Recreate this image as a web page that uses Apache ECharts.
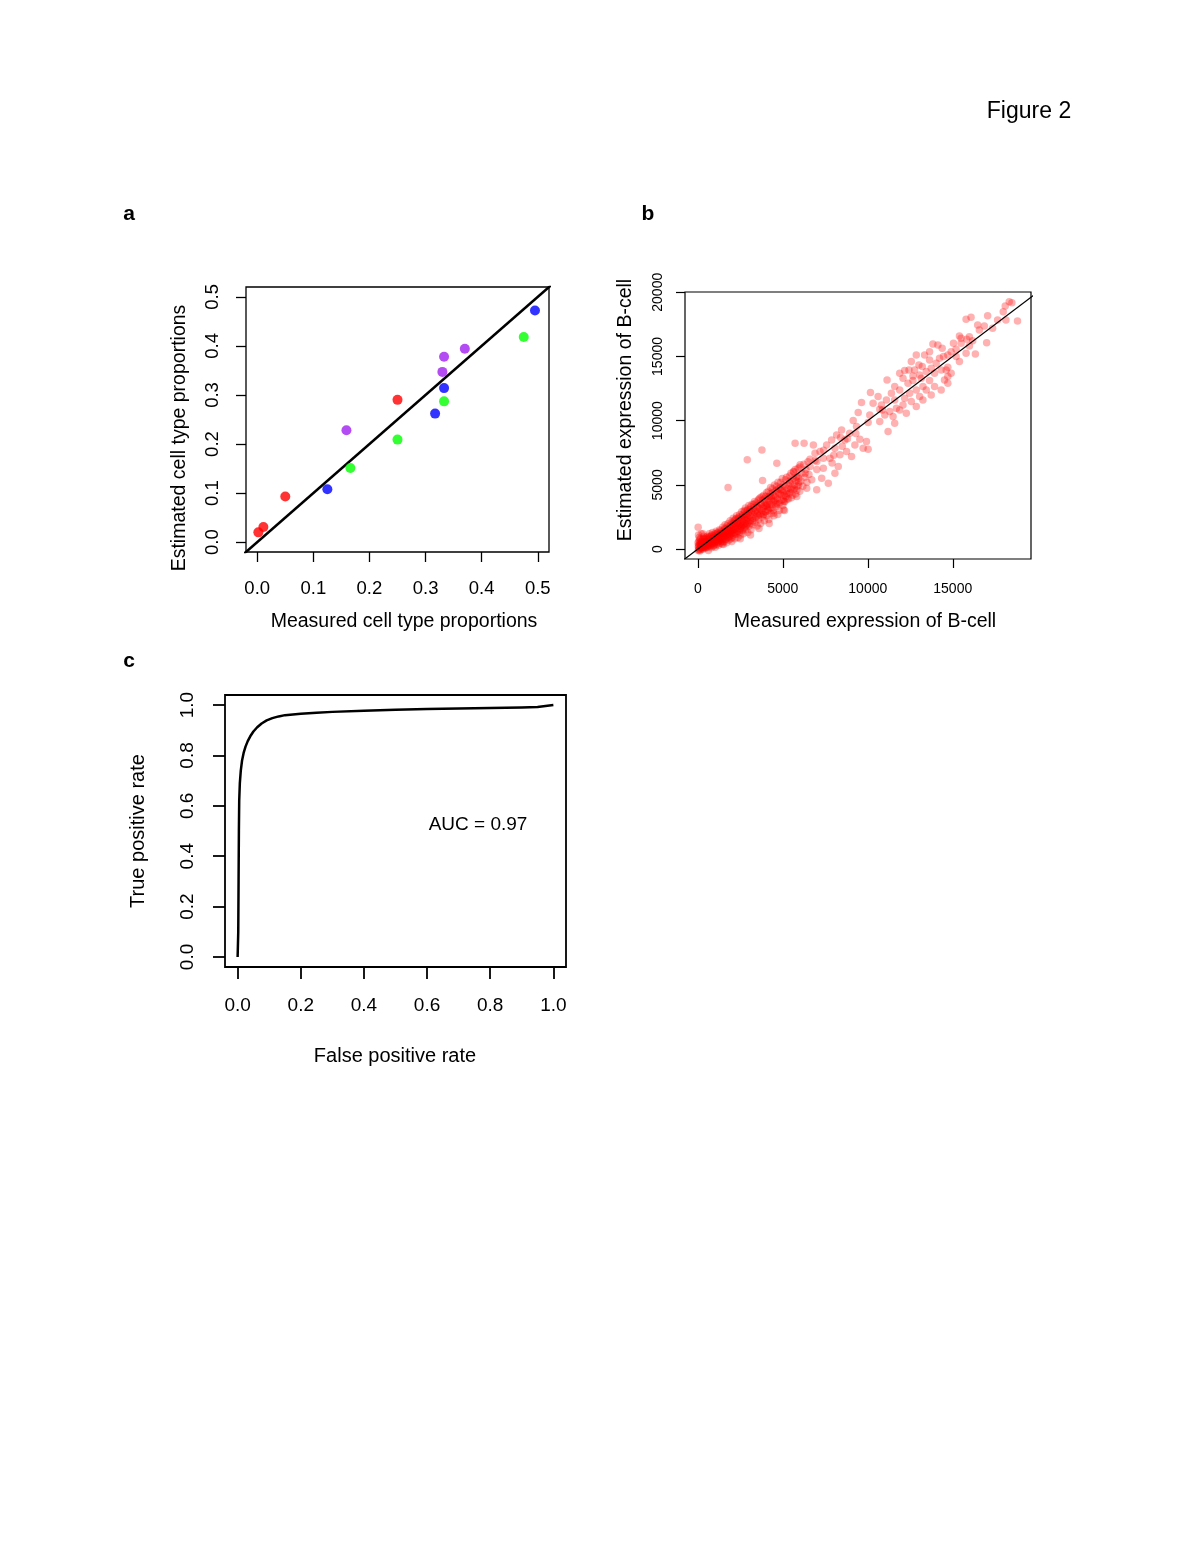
<!DOCTYPE html>
<html>
<head>
<meta charset="utf-8">
<script src="https://cdn.jsdelivr.net/npm/echarts@6/dist/echarts.min.js"></script>
<style>
html,body{margin:0;padding:0;background:#fff;}
#chart{width:1200px;height:1553px;}
</style>
</head>
<body>
<div id="chart"></div>
<script>
// ---------- Panel a: measured vs estimated cell type proportions ----------
const aRedMeasured = [0.002, 0.011, 0.050, 0.250];
const aRedEstimated = [0.020, 0.031, 0.093, 0.290];
const aBlueMeasured = [0.125, 0.317, 0.333, 0.495];
const aBlueEstimated = [0.108, 0.262, 0.314, 0.472];
const aGreenMeasured = [0.166, 0.250, 0.333, 0.475];
const aGreenEstimated = [0.151, 0.209, 0.287, 0.418];
const aPurpleMeasured = [0.159, 0.330, 0.333, 0.370];
const aPurpleEstimated = [0.228, 0.347, 0.378, 0.394];
const aTicks = [0.0, 0.1, 0.2, 0.3, 0.4, 0.5];
const aIdentityRange = [-1, 1];

// ---------- Panel b: measured vs estimated expression of B-cell ----------
const bUpperPoints = [
 [18323,19266],[18088,18929],[18479,19188],[17971,18488],[18127,17840],[18811,17762],[17053,18177],[16077,18047],
 [15784,17892],[16467,17451],[16858,17374],[17346,17192],[16995,16077],[16330,15195],[15979,15818],[15393,16596],
 [15823,16337],[15491,16025],[15198,15559],[15393,14599],[16174,16233],[14905,15377],[14456,14988],[14378,15637],
 [13831,15974],[13343,15118],[13636,14729],[14026,14470],[13011,14340],[12757,13951],[12171,13899],[13441,13821],
 [13929,13691],[14710,13432],[14319,13951],[13148,13302],[12659,13121],[13636,13121],[14710,12914],[14319,12393],
 [13733,12006],[13245,12654],[12366,12914],[11878,12395],[11136,13173],[12171,11747],[12562,11487],[11585,11617],
 [11878,10839],[11292,10709],[10804,11228],[11003,10450],[12854,11098],[13245,11617],[14612,13951],
 [12854,15118],[12561,14599],[13206,14210],[13733,14080],[14221,14858],[14710,15118],[15042,16025],[15491,16414],
 [15979,16544],[16565,17063],[17639,17840],[15198,14988],[15784,15248],[14514,13173],[13050,13562],[12073,13303],
 [11585,12654],[12854,12395],[13441,12395],[13929,12654],[12464,12136],[13050,11877],[11390,12136],[12073,11228],
 [11097,11617],[11683,10969],[10862,10839],[12268,10580],[11488,10320],[13636,15377],[14124,15896],[14710,14158],
 [14905,13692],[12425,13951],[11878,13692],[12659,13484]
];
const bMiddlePoints = [
 [10158,12187],[10607,11875],[9631,11409],[10314,11357],[10705,10890],[9436,10631],[10119,10449],[9143,10008],
 [9338,9542],[10021,9853],[8459,9283],[8935,9023],[8654,8505],[9534,8556],[9924,8375],[9240,8116],
 [9729,7856],[10021,7778],[8166,8894],[7873,8505],[7580,8116],[8752,7597],[9045,7208],[8361,7338],
 [8068,7857],[7190,7597],[6799,8116],[5725,8245],[6252,8245],[6897,7467],[7385,7079],[7775,7079],
 [7003,6819],[6604,6430],[6018,6560],[6311,5912],[7385,6301],[8264,6430],[8068,5912],[5627,6041],
 [5920,5523],[6702,5393],[7287,5523],[7678,5134],[5432,5134],[6409,4745],[6995,4615],[5237,4356],
 [5823,4097],[5042,3837],[11584,9801],[11193,9153],[10705,9931],
 [4260,4096],[4650,3578],[4065,3318],[4455,2799],[3869,2670],[5041,3059],[4846,4615],[3772,7726],[4650,6689],
 [1780,4800],[2910,6950],[3810,5340],
 [6900,6900],[7400,7700],[8000,7300],[8500,8000],[7000,6200],[6600,7000],[7900,6700],[8800,8600],[9300,9000],[8400,8700]
];
const bDensePoints = [
 [20,-100],[40,150],[60,300],[90,20],[110,450],[130,200],[150,-50],[170,350],[190,600],[210,120],[230,420],[260,250],
 [280,700],[300,-20],[320,520],[340,300],[360,150],[380,800],[400,450],[420,250],[440,620],[460,80],[480,380],[500,900],
 [40,1100],[20,1700],[80,900],[200,1200],[350,1000],[150,800],[250,50],[450,200],[10,500],[60,600],[120,-150],[300,1200],
 [520,600],[540,150],[560,1000],[580,400],[600,750],[620,-100],[640,300],[660,550],[680,1200],[700,800],[720,200],[740,650],
 [760,450],[780,1000],[800,100],[820,700],[840,380],[860,1300],[880,850],[900,550],[920,250],[940,1050],[960,700],[980,450],
 [1000,1200],[1020,150],[1040,900],[1060,600],[1080,1400],[1100,350],[1120,1000],[1140,750],[1160,500],[1180,1250],[1200,850],
 [1220,300],[1240,1100],[1260,650],[1280,1500],[1300,950],[1320,450],[1340,1200],[1360,800],[1380,600],[1400,1350],[1420,1000],
 [1440,400],[1460,1700],[1480,750],[1500,1150],
 [1520,900],[1540,1500],[1560,600],[1580,1250],[1600,1900],[1620,1050],[1640,750],[1660,1400],[1680,1100],[1700,500],
 [1720,1650],[1740,1300],[1760,900],[1780,2000],[1800,1500],[1820,700],[1840,1200],[1860,1750],[1880,1000],[1900,2200],
 [1920,1400],[1940,800],[1960,1650],[1980,1200],[2000,2100],[2020,900],[2040,1800],[2060,1450],[2080,2400],[2100,1100],
 [2120,1700],[2140,2000],[2160,1300],[2180,800],[2200,2300],[2220,1550],[2240,1900],[2260,1150],[2280,2600],[2300,1700],
 [2320,2100],[2340,1400],[2360,900],[2380,2400],[2400,1850],[2420,2200],[2440,1300],[2460,2700],[2480,1600],[2500,2000],
 [2520,1100],[2540,2450],[2560,1800],[2580,2900],[2600,2150],[2620,1450],[2640,2600],[2660,1900],[2680,1200],[2700,2350],
 [2720,3000],[2740,1700],[2760,2500],[2780,2000],[2800,3200],[2820,1500],[2840,2700],[2860,2200],[2880,1900],[2900,3000],
 [2920,2450],[2940,1300],[2960,2800],[2980,2100],[3000,3400],
 [3020,1800],[3050,2600],[3080,3100],[3100,2200],[3130,1500],[3160,2900],[3190,3500],[3220,2400],[3250,1900],[3280,3200],
 [3310,2700],[3340,3700],[3370,2100],[3400,3000],[3430,2500],[3460,3400],[3490,1800],[3520,2900],[3550,3800],[3580,2300],
 [3610,3200],[3640,2700],[3670,4000],[3700,2000],[3730,3500],[3760,3000],[3790,2500],[3820,3800],[3850,3300],[3880,4200],
 [3910,2200],[3940,3600],[3970,2900],[4000,4100],[4030,3400],[4060,2600],[4090,3900],[4120,3100],[4150,4500],[4180,2300],
 [4210,3700],[4240,3200],[4270,4300],[4300,2800],[4330,4000],[4360,3500],[4390,4700],[4420,3000],[4450,4200],[4480,2600],
 [4520,3800],[4560,4500],[4600,3300],[4640,4900],[4680,4000],[4720,3500],[4760,4700],[4800,3000],[4840,4300],[4880,5200],
 [4920,3800],[4960,4600],[5000,3400],[5040,5000],[5080,4200],[5120,3700],[5160,5400],[5200,4500],[5250,3900],[5300,5000],
 [5350,4300],[5400,5700],[5450,4700],[5500,4000],[5550,5300],[5600,4600],[5650,6000],[5700,5000],[5750,4300],[5800,5600],
 [5850,4900],[5900,6300],[5950,5200],[6000,4500],
 [3100,1100],[3600,1600],[4200,2000],[4700,2700],[5100,3000],[2500,800],[2000,600],[1500,350],
 [30,250],[70,-50],[100,700],[140,350],[180,100],[220,550],[270,380],[310,150],[330,850],[370,550],[410,100],[430,750],
 [470,500],[510,300],[550,800],[590,200],[630,900],[670,400],[710,1000],[750,300],[790,650],[830,1100],[870,500],[910,850],
 [950,300],[990,900],[1030,550],[1070,1150],[1110,700],[1150,1300],[1190,600],[1230,900],[1270,1200],[1310,700],[1350,1450],
 [1390,950],[1430,1200],[1470,550],[1510,1350],[1550,1000],[1590,1600],[1630,800],[1670,1250],[1710,1800],[1750,1050],
 [1790,1450],[1830,950],[1870,1600],[1910,1150],[1950,1900],[1990,1450],
 [2030,1300],[2070,2000],[2110,1500],[2150,2200],[2190,1200],[2230,1800],[2270,2400],[2310,1350],[2350,2000],[2390,1600],
 [2430,2500],[2470,1900],[2510,1500],[2550,2300],[2590,1750],[2630,2700],[2670,2100],[2710,1600],[2750,2900],[2790,2300],
 [2830,1800],[2870,2600],[2910,2000],[2950,3100],[2990,2400],[3030,2900],[3070,2000],[3110,3300],[3150,2500],[3200,3000],
 [3240,2200],[3290,3500],[3330,2900],[3380,2400],[3420,3600],[3470,2800],[3510,3300],[3560,2600],[3600,3900],[3650,3100],
 [3690,3600],[3740,2800],[3780,4100],[3830,3200],[3870,2700],[3920,3900],[3960,3400],[4010,2900],
 [4050,4400],[4100,3500],[4140,3000],[4190,4100],[4230,3500],[4280,4800],[4320,3800],[4370,3200],[4410,4400],[4460,3700],
 [4510,5000],[4550,4100],[4590,3500],[4630,4600],[4670,3900],[4720,5200],[4770,4300],[4820,3600],[4870,4800],[4910,4200],
 [4970,5500],[5020,4400],[5070,3700],[5110,4900],[5170,4100],[5220,5600],[5280,4700],[5330,3900],[5380,5300],[5430,4400],
 [5480,5900],[5530,4800],[5580,4200],[5630,5500],[5680,4700],[5730,6200],[5780,5300],[5830,4600],[5880,5700],[5930,5000],
 [6000,6400],[6060,5300],[6120,5900],[6180,4900],[6240,6600],[6300,5600],[6360,6200],[6420,5200],[6480,6800],[6540,5800]
];
const bTicksX = [0, 5000, 10000, 15000];
const bTicksY = [0, 5000, 10000, 15000, 20000];
const bIdentityRange = [-2000, 30000];

// ---------- Panel c: ROC curve ----------
const rocFpr = [0, 0.002, 0.003, 0.004, 0.005, 0.007, 0.010, 0.014, 0.019, 0.025, 0.032, 0.040, 0.050, 0.062, 0.076, 0.092, 0.11, 0.13, 0.15, 0.2, 0.25, 0.3, 0.4, 0.5, 0.6, 0.7, 0.8, 0.9, 0.95, 1.0];
const rocTpr = [0, 0.10, 0.30, 0.50, 0.62, 0.69, 0.74, 0.78, 0.81, 0.835, 0.857, 0.876, 0.895, 0.912, 0.927, 0.939, 0.948, 0.955, 0.960, 0.966, 0.970, 0.973, 0.977, 0.981, 0.984, 0.986, 0.988, 0.990, 0.992, 1.0];
const cTicks = [0.0, 0.2, 0.4, 0.6, 0.8, 1.0];
const aucText = 'AUC = 0.97';

// ---------- build ----------
const FONT = '"Liberation Sans", Arial, Helvetica, sans-serif';
const zip = (xs, ys) => xs.map((x, i) => [x, ys[i]]);
const diag = r => r.map(v => [v, v]);

function valueAxis(gridIndex, min, max, ticks, fmt, opts) {
  return {
    type: 'value', gridIndex, min, max,
    axisLine: { show: false, onZero: false },
    splitLine: { show: false },
    axisTick: { show: true, inside: false, length: opts.tickLen, customValues: ticks,
      lineStyle: { color: '#000', width: opts.tickWidth } },
    axisLabel: { show: true, customValues: ticks, formatter: fmt, color: '#000',
      fontFamily: FONT, fontSize: opts.fontSize, margin: opts.margin, rotate: opts.rotate || 0 }
  };
}
const f1 = v => v.toFixed(1);
const fi = v => String(Math.round(v));

const textEl = (text, x, y, size, rot, weight) => ({
  type: 'text', x, y, rotation: rot || 0,
  style: { text, fill: '#000', font: (weight || 'normal') + ' ' + size + 'px ' + FONT,
    textAlign: 'center', textVerticalAlign: 'middle' }
});

const gridBase = { show: true, borderColor: '#000', backgroundColor: 'transparent', containLabel: false, outerBoundsMode: 'none' };

const option = {
  backgroundColor: '#fff',
  animation: false,
  grid: [
    Object.assign({ left: 246, top: 287, width: 303, height: 265, borderWidth: 1.3 }, gridBase),
    Object.assign({ left: 685, top: 292, width: 346, height: 267, borderWidth: 1.2 }, gridBase),
    Object.assign({ left: 225, top: 695, width: 341, height: 272, borderWidth: 1.8 }, gridBase)
  ],
  xAxis: [
    valueAxis(0, -0.02, 0.52, aTicks, f1, { tickLen: 10, tickWidth: 1.3, fontSize: 18.5, margin: 27 }),
    valueAxis(1, -754, 19604, bTicksX, fi, { tickLen: 9, tickWidth: 1.2, fontSize: 14, margin: 23 }),
    valueAxis(2, -0.04, 1.04, cTicks, f1, { tickLen: 12, tickWidth: 1.8, fontSize: 19, margin: 29 })
  ],
  yAxis: [
    valueAxis(0, -0.02, 0.52, aTicks, f1, { tickLen: 10, tickWidth: 1.3, fontSize: 18.5, margin: 24, rotate: 90 }),
    valueAxis(1, -770, 20020, bTicksY, fi, { tickLen: 9, tickWidth: 1.2, fontSize: 14, margin: 20, rotate: 90 }),
    valueAxis(2, -0.04, 1.04, cTicks, f1, { tickLen: 12, tickWidth: 1.8, fontSize: 19, margin: 28, rotate: 90 })
  ],
  series: [
    { type: 'line', xAxisIndex: 0, yAxisIndex: 0, data: diag(aIdentityRange), showSymbol: false, clip: true,
      lineStyle: { color: '#000', width: 2.5 }, silent: true, z: 1 },
    { type: 'scatter', xAxisIndex: 0, yAxisIndex: 0, data: zip(aRedMeasured, aRedEstimated), symbolSize: 10, itemStyle: { color: '#ff0000' }, z: 2 },
    { type: 'scatter', xAxisIndex: 0, yAxisIndex: 0, data: zip(aBlueMeasured, aBlueEstimated), symbolSize: 10, itemStyle: { color: '#0000ff' }, z: 2 },
    { type: 'scatter', xAxisIndex: 0, yAxisIndex: 0, data: zip(aGreenMeasured, aGreenEstimated), symbolSize: 10, itemStyle: { color: '#00ff00' }, z: 2 },
    { type: 'scatter', xAxisIndex: 0, yAxisIndex: 0, data: zip(aPurpleMeasured, aPurpleEstimated), symbolSize: 10, itemStyle: { color: '#a020f0' }, z: 2 },

    { type: 'scatter', xAxisIndex: 1, yAxisIndex: 1, data: bDensePoints.concat(bMiddlePoints, bUpperPoints), symbolSize: 7.5,
      itemStyle: { color: 'rgba(255,0,0,0.38)' }, z: 1 },
    { type: 'line', xAxisIndex: 1, yAxisIndex: 1, data: diag(bIdentityRange), showSymbol: false, clip: true,
      lineStyle: { color: '#000', width: 1.2 }, silent: true, z: 3 },

    { type: 'line', xAxisIndex: 2, yAxisIndex: 2, data: zip(rocFpr, rocTpr), showSymbol: false, smooth: false,
      lineStyle: { color: '#000', width: 2.5, join: 'round' }, z: 2 }
  ],
  graphic: [
    textEl('Figure 2', 1029, 112, 23),
    textEl('a', 129, 214, 21, 0, 'bold'),
    textEl('b', 648, 214, 21, 0, 'bold'),
    textEl('c', 129, 661, 21, 0, 'bold'),
    textEl('Measured cell type proportions', 404, 622, 19.5),
    textEl('Estimated cell type proportions', 180, 438, 19.5, Math.PI / 2),
    textEl('Measured expression of B-cell', 865, 622, 19.5),
    textEl('Estimated expression of B-cell', 626, 410, 19.5, Math.PI / 2),
    textEl('False positive rate', 395, 1056, 20),
    textEl('True positive rate', 138, 831, 20, Math.PI / 2),
    textEl(aucText, 478, 825, 19)
  ]
};

const chart = echarts.init(document.getElementById('chart'), null, { renderer: 'canvas', width: 1200, height: 1553 });
chart.setOption(option);
</script>
</body>
</html>
